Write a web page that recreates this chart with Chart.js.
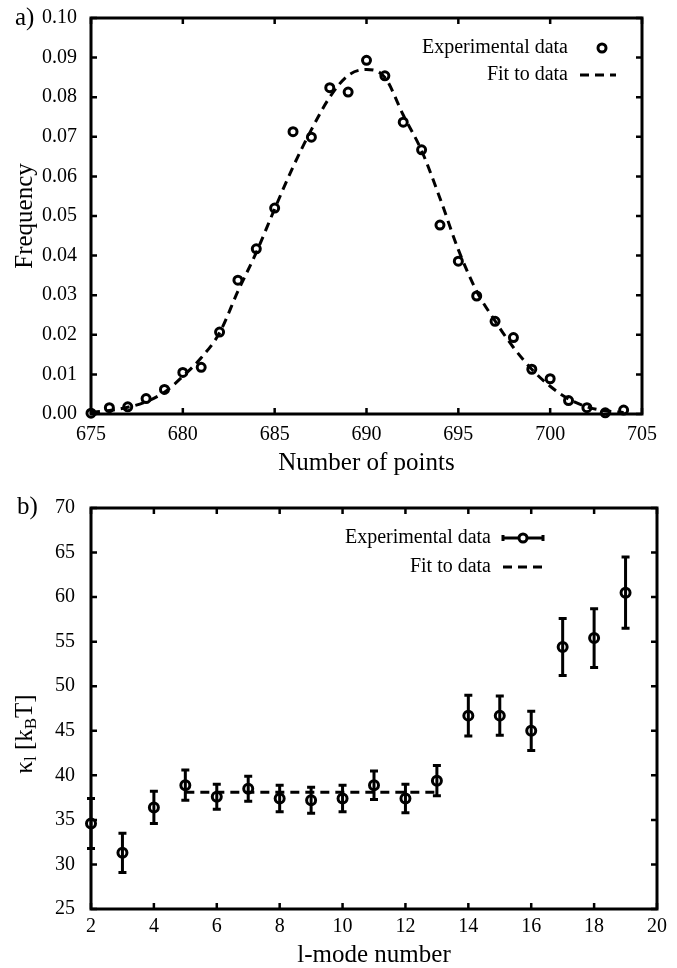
<!DOCTYPE html>
<html>
<head>
<meta charset="utf-8">
<title>Frequency and kappa</title>
<script src="https://cdn.jsdelivr.net/npm/chart.js@4.4.0/dist/chart.umd.min.js"></script>
<style>
  html, body { margin: 0; padding: 0; background: #fff; overflow: hidden; }
  .panel { position: relative; width: 677px; }
  #boxA { height: 484px; }
  #boxB { height: 486px; }
</style>
</head>
<body>
<div class="panel" id="boxA"><canvas id="chartA"></canvas></div>
<div class="panel" id="boxB"><canvas id="chartB"></canvas></div>
<script>
// Panel a: histogram of number of points
const pointCounts = [675, 676, 677, 678, 679, 680, 681, 682, 683, 684, 685, 686, 687, 688, 689,
                     690, 691, 692, 693, 694, 695, 696, 697, 698, 699, 700, 701, 702, 703, 704];
const frequency = [0.0002, 0.0016, 0.0018, 0.0039, 0.0062, 0.0105, 0.0118, 0.0207, 0.0338, 0.0417,
                   0.0520, 0.0713, 0.0699, 0.0824, 0.0813, 0.0893, 0.0854, 0.0737, 0.0667, 0.0477,
                   0.0386, 0.0298, 0.0234, 0.0193, 0.0113, 0.0089, 0.0034, 0.0016, 0.0003, 0.0010];
const fitFrequency = [0.0004, 0.0009, 0.0017, 0.0031, 0.0055, 0.0095, 0.0142, 0.0205, 0.0310, 0.0408,
                      0.0518, 0.0624, 0.0718, 0.0800, 0.0855, 0.0870, 0.0850, 0.0755, 0.0665, 0.0545,
                      0.0415, 0.0310, 0.0235, 0.0168, 0.0113, 0.0070, 0.0038, 0.0018, 0.0008, 0.0004];

// Panel b: bending modulus per l-mode
const modeNumbers = [2, 3, 4, 5, 6, 7, 8, 9, 10, 11, 12, 13, 14, 15, 16, 17, 18, 19];
const kappaValues = [34.6, 31.3, 36.4, 38.9, 37.6, 38.5, 37.4, 37.2, 37.4, 38.9, 37.4, 39.4,
                     46.7, 46.7, 45.0, 54.4, 55.4, 60.5];
const kappaErrors = [2.8, 2.2, 1.8, 1.7, 1.4, 1.4, 1.5, 1.45, 1.5, 1.6, 1.6, 1.7,
                     2.3, 2.2, 2.2, 3.2, 3.3, 4.0];
const fitModes = [5, 13];
const fitKappa = [38.1, 38.1];

const serif = "'Liberation Serif', 'Times New Roman', serif";

// frame around plot area plus inward ticks on all four sides
const frameTicks = {
  id: 'frameTicks',
  afterDraw(chart) {
    const {ctx, chartArea: a, scales: {x, y}} = chart;
    const len = 6;
    ctx.save();
    ctx.strokeStyle = '#000';
    ctx.lineWidth = 2.5;
    ctx.beginPath();
    x.ticks.forEach(t => {
      const px = x.getPixelForValue(t.value);
      ctx.moveTo(px, a.bottom); ctx.lineTo(px, a.bottom - len);
      ctx.moveTo(px, a.top); ctx.lineTo(px, a.top + len);
    });
    y.ticks.forEach(t => {
      const py = y.getPixelForValue(t.value);
      ctx.moveTo(a.left, py); ctx.lineTo(a.left + len, py);
      ctx.moveTo(a.right, py); ctx.lineTo(a.right - len, py);
    });
    ctx.stroke();
    ctx.lineWidth = 3;
    ctx.strokeRect(a.left, a.top, a.right - a.left, a.bottom - a.top);
    ctx.restore();
  }
};

// vertical error bars for datasets carrying an "errors" array
const errorBars = {
  id: 'errorBars',
  afterDatasetsDraw(chart) {
    const {ctx, scales: {x, y}} = chart;
    ctx.save();
    ctx.strokeStyle = '#000';
    ctx.lineWidth = 3;
    chart.data.datasets.forEach(ds => {
      if (!ds.errors) return;
      ds.data.forEach((p, i) => {
        const px = x.getPixelForValue(p.x);
        const hi = y.getPixelForValue(p.y + ds.errors[i]);
        const lo = y.getPixelForValue(p.y - ds.errors[i]);
        ctx.beginPath();
        ctx.moveTo(px, hi); ctx.lineTo(px, lo);
        ctx.moveTo(px - 4, hi); ctx.lineTo(px + 4, hi);
        ctx.moveTo(px - 4, lo); ctx.lineTo(px + 4, lo);
        ctx.stroke();
      });
    });
    ctx.restore();
  }
};

// right-aligned legend with sample on the right, plus panel letter
const sideLegend = {
  id: 'sideLegend',
  afterDraw(chart, args, opts) {
    const ctx = chart.ctx;
    ctx.save();
    ctx.fillStyle = '#000';
    ctx.strokeStyle = '#000';
    ctx.font = '25px ' + serif;
    ctx.textAlign = 'left';
    ctx.textBaseline = 'alphabetic';
    ctx.fillText(opts.letter.text, opts.letter.x, opts.letter.y);

    ctx.font = '20px ' + serif;
    ctx.textAlign = 'right';
    ctx.textBaseline = 'middle';
    opts.items.forEach(it => {
      ctx.fillText(it.label, opts.textRight, it.y);
      const x0 = opts.textRight + 12, x1 = x0 + opts.sampleWidth;
      const cx = (x0 + x1) / 2;
      ctx.setLineDash([]);
      if (it.kind === 'dash') {
        ctx.lineWidth = 3;
        ctx.setLineDash([9, 6]);
        ctx.beginPath(); ctx.moveTo(x0, it.y); ctx.lineTo(x1, it.y); ctx.stroke();
        ctx.setLineDash([]);
      }
      if (it.kind === 'errbar') {
        ctx.lineWidth = 3;
        ctx.beginPath();
        ctx.moveTo(x0, it.y); ctx.lineTo(x1, it.y);
        ctx.moveTo(x0, it.y - 3); ctx.lineTo(x0, it.y + 3);
        ctx.moveTo(x1, it.y - 3); ctx.lineTo(x1, it.y + 3);
        ctx.stroke();
      }
      if (it.kind === 'circle' || it.kind === 'errbar') {
        const mx = it.kind === 'circle' ? opts.markerX : cx;
        ctx.lineWidth = 3;
        ctx.beginPath(); ctx.arc(mx, it.y, it.r, 0, Math.PI * 2);
        ctx.fillStyle = '#fff'; ctx.fill();
        ctx.stroke();
        ctx.fillStyle = '#000';
      }
    });
    ctx.restore();
  }
};

// y title with subscripts (kappa_l [k_B T])
const kappaTitle = {
  id: 'kappaTitle',
  afterDraw(chart, args, opts) {
    if (!opts.parts) return;
    const ctx = chart.ctx;
    ctx.save();
    ctx.fillStyle = '#000';
    ctx.translate(opts.x, opts.y);
    ctx.rotate(-Math.PI / 2);
    ctx.textBaseline = 'middle';
    ctx.textAlign = 'left';
    const fontFor = p => (p.sub ? '17px ' : '25px ') + serif;
    let total = 0;
    opts.parts.forEach(p => { ctx.font = fontFor(p); total += ctx.measureText(p.text).width; });
    let cur = -total / 2;
    opts.parts.forEach(p => {
      ctx.font = fontFor(p);
      ctx.fillText(p.text, cur, p.sub ? 7 : 0);
      cur += ctx.measureText(p.text).width;
    });
    ctx.restore();
  }
};

const tickFont = { family: serif, size: 20 };
const titleFont = { family: serif, size: 25 };

new Chart(document.getElementById('chartA'), {
  type: 'scatter',
  data: {
    datasets: [{
      label: 'Experimental data',
      data: pointCounts.map((c, i) => ({ x: c, y: frequency[i] })),
      pointStyle: 'circle',
      pointRadius: 4,
      borderWidth: 3,
      borderColor: '#000',
      backgroundColor: 'rgba(0,0,0,0)',
      clip: false
    }, {
      label: 'Fit to data',
      data: pointCounts.map((c, i) => ({ x: c, y: fitFrequency[i] })),
      showLine: true,
      pointRadius: 0,
      borderColor: '#000',
      borderWidth: 3,
      borderDash: [9, 6],
      cubicInterpolationMode: 'monotone',
      clip: false
    }]
  },
  options: {
    responsive: true,
    maintainAspectRatio: false,
    animation: false,
    layout: { padding: { left: 0, top: 15, right: 35, bottom: 0 } },
    scales: {
      x: {
        type: 'linear', min: 675, max: 705,
        grid: { display: false }, border: { display: false },
        ticks: { stepSize: 5, font: tickFont, color: '#000', padding: 1, maxRotation: 0 },
        title: { display: true, text: 'Number of points', font: titleFont, color: '#000', padding: { top: 0, bottom: 6 } },
        afterFit: s => { s.height = 70; }
      },
      y: {
        min: 0, max: 0.1,
        grid: { display: false }, border: { display: false },
        ticks: { stepSize: 0.01, font: tickFont, color: '#000', padding: 6, callback: v => v.toFixed(2) },
        title: { display: true, text: 'Frequency', font: titleFont, color: '#000', padding: { top: 10, bottom: 0 } },
        afterFit: s => { s.width = 91; }
      }
    },
    plugins: {
      legend: { display: false },
      tooltip: { enabled: false },
      sideLegend: {
        letter: { text: 'a)', x: 15, y: 25 },
        textRight: 568, sampleWidth: 36, markerX: 602,
        items: [
          { label: 'Experimental data', y: 48, kind: 'circle', r: 4 },
          { label: 'Fit to data', y: 75, kind: 'dash' }
        ]
      }
    }
  },
  plugins: [frameTicks, sideLegend]
});

new Chart(document.getElementById('chartB'), {
  type: 'scatter',
  data: {
    datasets: [{
      label: 'Experimental data',
      data: modeNumbers.map((m, i) => ({ x: m, y: kappaValues[i] })),
      errors: kappaErrors,
      pointStyle: 'circle',
      pointRadius: 4.5,
      borderWidth: 3,
      borderColor: '#000',
      backgroundColor: 'rgba(0,0,0,0)',
      clip: false
    }, {
      label: 'Fit to data',
      data: fitModes.map((m, i) => ({ x: m, y: fitKappa[i] })),
      showLine: true,
      pointRadius: 0,
      borderColor: '#000',
      borderWidth: 3,
      borderDash: [9, 6]
    }]
  },
  options: {
    responsive: true,
    maintainAspectRatio: false,
    animation: false,
    layout: { padding: { left: 0, top: 24, right: 20, bottom: 0 } },
    scales: {
      x: {
        type: 'linear', min: 2, max: 20,
        grid: { display: false }, border: { display: false },
        ticks: { stepSize: 2, font: tickFont, color: '#000', padding: -2, maxRotation: 0 },
        title: { display: true, text: 'l-mode number', font: titleFont, color: '#000', padding: { top: 0, bottom: 0 } },
        afterFit: s => { s.height = 61; }
      },
      y: {
        min: 25, max: 70,
        grid: { display: false }, border: { display: false },
        ticks: { stepSize: 5, font: tickFont, color: '#000', padding: 8 },
        title: { display: false },
        afterFit: s => { s.width = 91; }
      }
    },
    plugins: {
      legend: { display: false },
      tooltip: { enabled: false },
      sideLegend: {
        letter: { text: 'b)', x: 17, y: 30 },
        textRight: 491, sampleWidth: 40, markerX: 522,
        items: [
          { label: 'Experimental data', y: 54, kind: 'errbar', r: 4 },
          { label: 'Fit to data', y: 83, kind: 'dash' }
        ]
      },
      kappaTitle: {
        x: 25, y: 250,
        parts: [
          { text: 'κ' }, { text: 'l', sub: true }, { text: ' [k' }, { text: 'B', sub: true }, { text: 'T]' }
        ]
      }
    }
  },
  plugins: [frameTicks, errorBars, sideLegend, kappaTitle]
});
</script>
</body>
</html>
